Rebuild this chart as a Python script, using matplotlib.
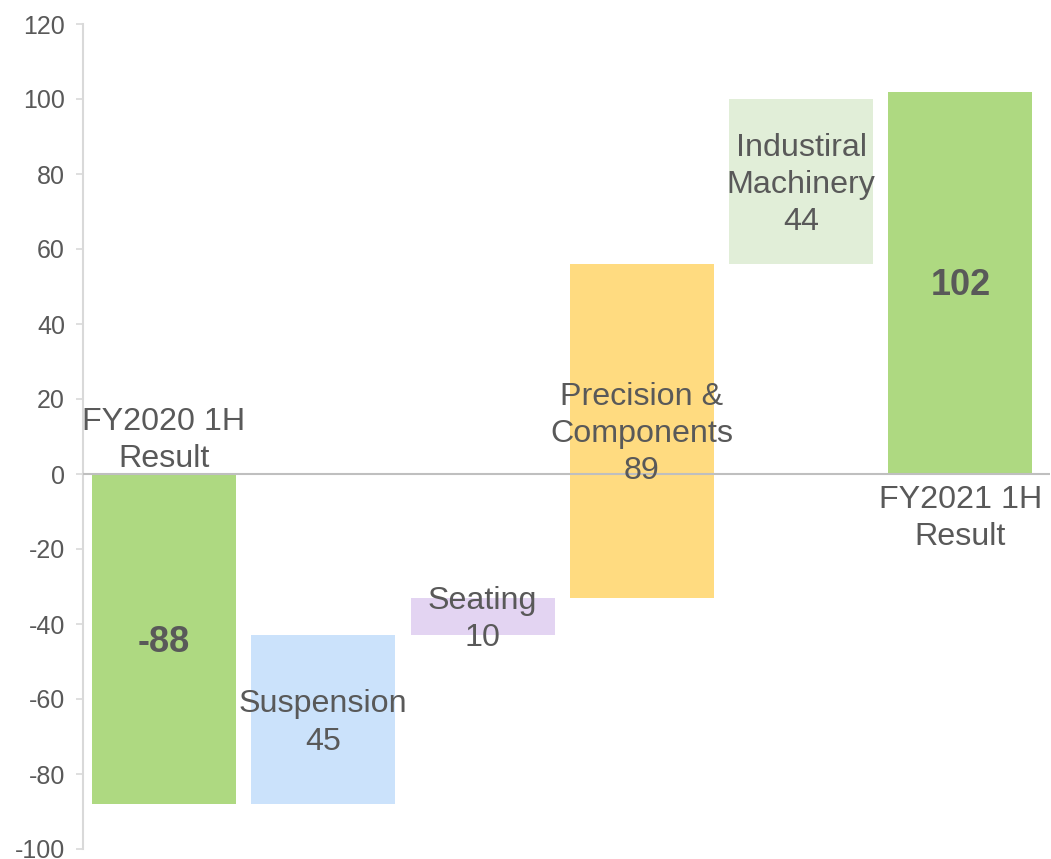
import matplotlib
matplotlib.use("Agg")
import matplotlib.pyplot as plt

plt.rcParams['font.family'] = ['Liberation Sans', 'DejaVu Sans']

categories = ["FY2020 1H\nResult", "Suspension", "Seating", "Precision &\nComponents",
              "Industiral\nMachinery", "FY2021 1H\nResult"]
values = [-88, 45, 10, 89, 44, 102]
is_total = [True, False, False, False, False, True]
colors = ["#aed981", "#cbe2fb", "#e3d4f2", "#ffdb80", "#e1eed8", "#aed981"]
yticks = [-100, -80, -60, -40, -20, 0, 20, 40, 60, 80, 100, 120]

# compute waterfall bottoms
bottoms, heights = [], []
running = 0
for v, t in zip(values, is_total):
    if t:
        bottoms.append(0)
        heights.append(v)
        running = v
    else:
        bottoms.append(running)
        heights.append(v)
        running += v

W, H = 1051, 859
fig = plt.figure(figsize=(W / 100, H / 100), dpi=100)
ax = fig.add_axes([83 / W, 10 / H, (1050 - 83) / W, 825 / H])

x = list(range(len(values)))
ax.bar(x, heights, bottom=bottoms, width=0.904, color=colors, linewidth=0, zorder=2)
ax.axhline(0, color="#bfbfbf", linewidth=1.5, zorder=3)

ax.set_xlim(-0.508, 5.562)
ax.set_ylim(-100, 120)
ax.set_yticks(yticks)
ax.set_yticklabels([str(t) for t in yticks])
ax.set_xticks([])
for s in ["top", "right", "bottom"]:
    ax.spines[s].set_visible(False)
ax.spines["left"].set_color("#d9d9d9")
ax.spines["left"].set_linewidth(1.5)
ax.tick_params(axis="y", colors="#d9d9d9", length=5, width=1.2, pad=8,
               labelsize=18, labelcolor="#595959")

tc = "#595959"
fs = 23.2
ls = 1.31
for i, (cat, v, t, b, h) in enumerate(zip(categories, values, is_total, bottoms, heights)):
    center = b + h / 2
    if t:
        ax.text(i, center - 0.8, str(v), ha="center", va="center", fontsize=26,
                fontweight="bold", color=tc, zorder=4)
        if v < 0:
            ax.text(i, 0.0, cat, ha="center", va="bottom", fontsize=fs, color=tc,
                    linespacing=ls, zorder=4)
        else:
            ax.text(i, -2.8, cat, ha="center", va="top", fontsize=fs, color=tc,
                    linespacing=ls, zorder=4)
    else:
        ax.text(i, center - 0.9, f"{cat}\n{v}", ha="center", va="center", fontsize=fs,
                color=tc, linespacing=ls, zorder=4)

fig.savefig("out.png", dpi=100)
